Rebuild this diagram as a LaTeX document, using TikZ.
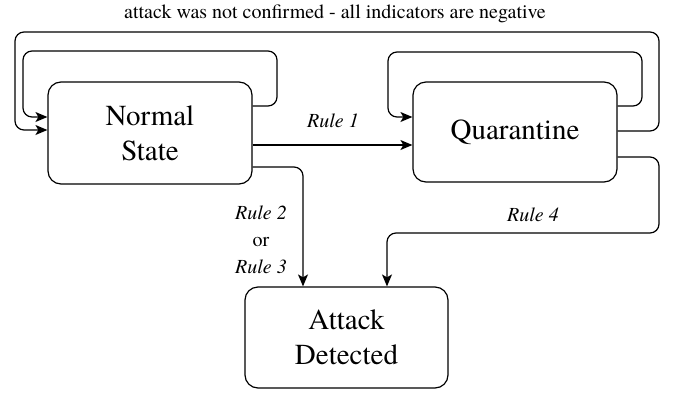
\documentclass[tikz,border=0pt]{standalone}
\usepackage{fontspec}
\setmainfont{TeX Gyre Termes}
\usetikzlibrary{arrows.meta}
\begin{document}
\begin{tikzpicture}[x=1pt,y=-1pt,
  statebox/.style={draw, line width=1.2pt, rounded corners=13pt, align=center,
    inner sep=0pt, font=\fontsize{29}{35}\selectfont},
  link/.style={draw, line width=1.2pt, rounded corners=9pt,
    -{Stealth[length=12pt,width=10pt,inset=3pt]}},
  rulelabel/.style={font=\fontsize{20}{27}\selectfont\itshape, align=center},
]
\useasboundingbox (0,0) rectangle (674,394);

% states
\node[statebox, minimum width=204pt, minimum height=102pt] (N) at (150,133) {Normal\\State};
\node[statebox, minimum width=204pt, minimum height=100pt] (Q) at (515,132) {Quarantine};
\node[statebox, minimum width=203pt, minimum height=101pt] (A) at (346.5,337.5) {Attack\\Detected};

% title over the outer return loop
\node[font=\fontsize{20}{24}\selectfont] (title) at (335,14) {attack was not confirmed - all indicators are negative};

% self loops
\draw[link] (N.east |- 0,106) -- (277,106) -- (277,51) -- (23,51) -- (23,117) -- (N.west |- 0,117);
\draw[link] (Q.east |- 0,106) -- (642,106) -- (642,52) -- (388,52) -- (388,117) -- (Q.west |- 0,117);

% return from quarantine to normal
\draw[link] (Q.east |- 0,131) -- (659,131) -- (659,32) -- (15,32) -- (15,130) -- (N.west |- 0,130);

% rule transitions
\draw[link] (N.east |- 0,145) -- (Q.west |- 0,145);
\draw[link] (N.east |- 0,167) -- (303,167) -- (A.north -| 303,0);
\draw[link] (Q.east |- 0,157) -- (659,157) -- (659,233) -- (387,233) -- (A.north -| 387,0);

% labels
\node[rulelabel] (r1) at (333,121) {Rule 1};
\node[rulelabel] (r23) at (261,240) {Rule 2\\{\upshape or}\\Rule 3};
\node[rulelabel] (r4) at (533,215) {Rule 4};
\end{tikzpicture}
\end{document}
